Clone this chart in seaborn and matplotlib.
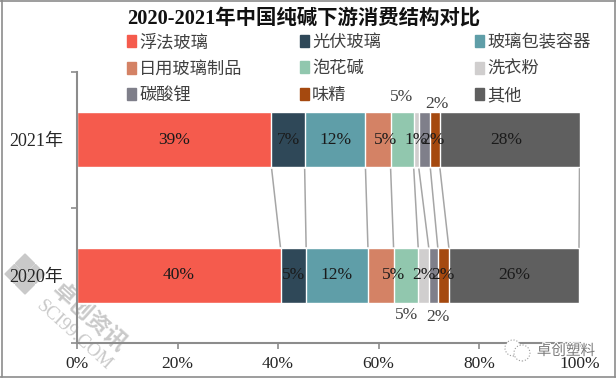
import pandas as pd
import matplotlib
matplotlib.use('Agg')
import matplotlib.pyplot as plt
import matplotlib.patheffects as pe
import seaborn as sns
from matplotlib.lines import Line2D
from matplotlib.patches import Patch, Circle, RegularPolygon
from matplotlib.transforms import IdentityTransform

# data
years = ['2021年', '2020年']
names = ['浮法玻璃', '光伏玻璃', '玻璃包装容器', '日用玻璃制品', '泡花碱', '洗衣粉', '碳酸锂', '味精', '其他']
v2021 = [38.7, 6.6, 12.1, 5.0, 4.6, 1.0, 2.3, 1.9, 27.8]
v2020 = [40.5, 5.1, 12.3, 5.1, 4.9, 2.1, 1.8, 2.2, 25.9]
colors = ['#F55B4D', '#2F4858', '#5F9EA8', '#D48265', '#91C7AE', '#D0CECE', '#7F7F8A', '#A5490F', '#5F5F5F']

sns.set_theme(style='white')
plt.rcParams['font.family'] = ['Liberation Serif', 'Noto Sans CJK SC']
W, H = 616, 379
GRAY = '#8c8c8c'

df = pd.DataFrame({'year': years * len(names),
                   'name': [n for n in names for _ in years],
                   'value': [v for pair in zip(v2021, v2020) for v in pair]})
df['cum'] = df.groupby('year', sort=False)['value'].cumsum()

fig = plt.figure(figsize=(W / 100, H / 100), dpi=100)
ax = fig.add_axes([77 / W, 1 - 343 / H, 502.5 / W, 271 / H])
ax.patch.set_alpha(0)

# stacked bars: longest first, each shorter one on top
bar_w = 0.406
for name, c in list(zip(names, colors))[::-1]:
    sns.barplot(data=df[df['name'] == name], x='cum', y='year', order=years, color=c,
                saturation=1, width=bar_w, orient='y', ax=ax, zorder=2)

# series lines between the two bars
c21 = df[df['year'] == years[0]]['cum'].tolist()
c20 = df[df['year'] == years[1]]['cum'].tolist()
for a, b in zip(c21, c20):
    ax.plot([a, b], [bar_w / 2, 1 - bar_w / 2], color='#a6a6a6', lw=1.1, zorder=1)

ax.set_xlim(0, 100)
ax.set_ylim(1.5, -0.5)
ax.set_xlabel('')
ax.set_ylabel('')
sns.despine(ax=ax)
for s in ['left', 'bottom']:
    ax.spines[s].set_color(GRAY)
    ax.spines[s].set_linewidth(1.5)
ax.set_xticks(range(0, 101, 20))
ax.set_xticklabels([f'{t}%' for t in range(0, 101, 20)], fontsize=12.5, color='#262626')
ax.set_yticks([-0.5, 0.5, 1.5])
ax.set_yticklabels([])
ax.set_yticks([0, 1], minor=True)
ax.set_yticklabels(years, minor=True, fontsize=13, color='#262626')
ax.tick_params(axis='both', which='major', length=4.5, width=1.2, color=GRAY, bottom=True, left=True, pad=5)
ax.tick_params(axis='y', which='minor', length=0, pad=10)

# value labels, x in percent along the axis
inside21 = [19.3, 42, 51.5, 61.5, None, 67.4, 70.8, None, 85.5]
inside20 = [20.3, 43, 51.7, 62.9, None, 69, 72.8, None, 87]
for x, v in zip(inside21, v2021):
    if x is not None:
        ax.text(x, 0, f'{v:.0f}%', ha='center', va='center', fontsize=12.5, color='#1a1a1a', zorder=3)
for x, v in zip(inside20, [v2020[0], v2020[1], v2020[2], v2020[3], None, v2020[5], v2020[7], None, v2020[8]]):
    if x is not None:
        ax.text(x, 1, f'{v:.0f}%', ha='center', va='center', fontsize=12.5, color='#1a1a1a', zorder=3)
ax.text(64.5, -0.315, f'{v2021[4]:.0f}%', ha='center', va='center', fontsize=12.5, color='#404040')
ax.text(71.6, -0.265, f'{v2021[7]:.0f}%', ha='center', va='center', fontsize=12.5, color='#404040')
ax.text(65.6, 1.29, f'{v2020[4]:.0f}%', ha='center', va='center', fontsize=12.5, color='#404040')
ax.text(71.8, 1.305, f'{v2020[6]:.0f}%', ha='center', va='center', fontsize=12.5, color='#404040')

# title
fig.text(304 / W, 1 - 19 / H, '2020-2021年中国纯碱下游消费结构对比', ha='center', va='center',
         fontsize=14.7, fontweight='bold', color='#111111')

# legend: three separate columns so the spacing stays even
for col, x0 in enumerate([127, 300, 475]):
    handles = [Patch(color=colors[i]) for i in range(col, 9, 3)]
    labels = [names[i] for i in range(col, 9, 3)]
    fig.legend(handles, labels, loc='upper left', bbox_to_anchor=(x0 / W, 1 - 35 / H), frameon=False,
               fontsize=12.4, handlelength=0.5, handleheight=0.7, handletextpad=0.2,
               labelspacing=0.6, borderpad=0, borderaxespad=0, labelcolor='#404040')

# watermarks, behind the axes
mark = '#c9c9c9'
px = IdentityTransform()
for dx, dy in [(0, -10.5), (-10.5, 0), (10.5, 0), (0, 10.5)]:
    fig.add_artist(RegularPolygon((25 + dx, H - 274 - dy), 4, radius=9.5, color=mark, transform=px, zorder=-1))
fig.text(89 / W, 1 - 318 / H, '卓创资讯', rotation=-42, rotation_mode='anchor', ha='center', va='center',
         fontsize=16.5, color=mark, family=['Noto Sans CJK SC'], fontweight='bold', zorder=-1)
fig.text(74 / W, 1 - 336 / H, 'SCI99.COM', rotation=-42, rotation_mode='anchor', ha='center', va='center',
         fontsize=13.5, color=mark, family=['Liberation Serif'], zorder=-1)

fig.add_artist(Circle((513, H - 348), 8, fc='white', ec='#9a9a9a', lw=0.8, ls=':', transform=px, zorder=4))
fig.add_artist(Circle((522, H - 353), 8, fc='white', ec='#9a9a9a', lw=0.8, ls=':', transform=px, zorder=4))
fig.text(566 / W, 1 - 351 / H, '卓创塑料', ha='center', va='center', fontsize=10.5, color='#7a7a7a',
         family=['Noto Sans CJK SC'], zorder=5,
         path_effects=[pe.withStroke(linewidth=1.5, foreground='white')])

# picture frame
for xs, ys in [([1.5, 1.5], [0, 377]), ([0, 616], [377, 377]), ([0, 616], [0.5, 0.5]), ([615, 615], [0, 377])]:
    fig.add_artist(Line2D([x / W for x in xs], [1 - y / H for y in ys], color=GRAY, lw=1.2))

fig.savefig('out.png', dpi=100)
